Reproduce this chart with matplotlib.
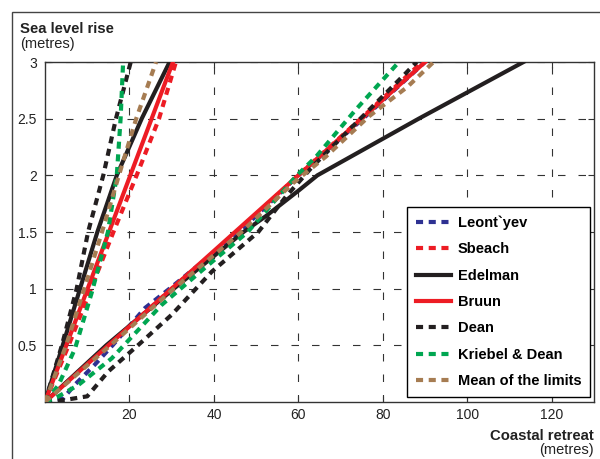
import matplotlib
matplotlib.use("Agg")
import matplotlib.pyplot as plt
from matplotlib.patches import Rectangle

plt.rcParams['font.family'] = ['Liberation Sans', 'DejaVu Sans']

# sea level rise levels (metres) used for most series
slr = [0, 0.5, 1.0, 1.5, 2.0, 2.5, 3.0]

# lower retreat limit (steep curves), coastal retreat in metres
edelman_lo = [0, 4.2, 8.3, 12.4, 17.0, 22.9, 29.5]
bruun_lo = [0, 5.05, 10.1, 15.15, 20.2, 25.25, 30.3]
sbeach_lo = [0, 5.6, 10.9, 16.2, 21.7, 27.0, 31.0]
dean_lo = [0, 4.0, 7.5, 10.2, 13.8, 16.8, 20.3]
mean_lo = [0, 5.0, 9.3, 13.5, 17.5, 21.6, 26.3]
kriebel_lo_y = [0, 0.15, 0.47, 0.97, 1.5, 2.0, 2.5, 3.0]
kriebel_lo = [0, 3.2, 7.1, 11.1, 14.9, 17.0, 17.9, 18.5]

# upper retreat limit (shallow curves)
edelman_hi_y = [0, 0.5, 1.0, 1.5, 1.64, 1.87, 2.0, 2.5, 3.0]
edelman_hi = [0, 14.5, 30.5, 47.0, 52.3, 60.2, 64.5, 88.5, 113.3]
bruun_hi = [0, 15.0, 30.0, 45.0, 60.0, 75.0, 90.0]
sbeach_hi = [0, 15.0, 30.0, 45.5, 60.0, 74.8, 89.3]
leontyev_hi_y = [0, 0.03, 0.15, 0.33, 0.5, 0.83, 1.0, 1.5, 2.0, 2.5, 3.0]
leontyev_hi = [0, 4.3, 7.0, 11.8, 16.0, 23.7, 29.5, 46.0, 60.0, 75.3, 90.0]
dean_hi_y = [0, 0.02, 0.05, 0.27, 0.5, 0.77, 1.15, 1.5, 1.81, 2.08, 2.4, 2.9, 3.0]
dean_hi = [0, 5, 10, 15, 22, 30, 39.5, 50.5, 57, 63.4, 72, 85.4, 88]
kriebel_hi_y = [0, 0.05, 0.15, 0.385, 0.856, 1.21, 1.5, 1.99, 2.165, 2.58, 3.0]
kriebel_hi = [0, 3.2, 7.9, 15.8, 27.6, 38.7, 48.0, 59.4, 64.2, 73.6, 83.8]
mean_hi_y = [0, 0.5, 1.0, 1.5, 1.93, 2.165, 2.52, 2.78, 3.0]
mean_hi = [0, 15.5, 30.5, 46.5, 58.7, 66.5, 76.7, 85.8, 92.0]

x_ticks = [20, 40, 60, 80, 100, 120]
y_ticks = [0.5, 1, 1.5, 2, 2.5, 3]

blue = '#2e3192'
red = '#ed1c24'
black = '#231f20'
green = '#00a651'
brown = '#a67c52'

lw = 3.0
dash = (0, (1.7, 1.35))

fig = plt.figure(figsize=(6, 4.59), dpi=100)
ax = fig.add_axes([0.075, 0.1242, 0.915, 0.7407])

series = [
    ("Leont`yev", blue, dash, [], [(leontyev_hi, leontyev_hi_y)]),
    ("Sbeach", red, dash, [(sbeach_lo, slr)], [(sbeach_hi, slr)]),
    ("Edelman", black, '-', [(edelman_lo, slr)], [(edelman_hi, edelman_hi_y)]),
    ("Bruun", red, '-', [(bruun_lo, slr)], [(bruun_hi, slr)]),
    ("Dean", black, dash, [(dean_lo, slr)], [(dean_hi, dean_hi_y)]),
    ("Kriebel & Dean", green, dash, [(kriebel_lo, kriebel_lo_y)], [(kriebel_hi, kriebel_hi_y)]),
    ("Mean of the limits", brown, dash, [(mean_lo, slr)], [(mean_hi, mean_hi_y)]),
]

for name, col, ls, lo, hi in series:
    first = True
    for xs, ys in lo + hi:
        ax.plot(xs, ys, color=col, linestyle=ls, linewidth=lw,
                label=name if first else None, zorder=3)
        first = False

ax.set_xlim(0, 130)
ax.set_ylim(0, 3)
ax.set_xticks(x_ticks)
ax.set_yticks(y_ticks)
ax.set_xticklabels([str(v) for v in x_ticks])
ax.set_yticklabels(['0.5', '1', '1.5', '2', '2.5', '3'])
ax.tick_params(direction='in', length=4.5, width=0.8, colors='#333333',
               labelcolor='#222222', labelsize=10, top=True, right=True)
ax.tick_params(axis='x', pad=4)
ax.tick_params(axis='y', pad=6)
ax.grid(True, color='#333333', linewidth=0.8, linestyle=(0, (6.75, 11.7)))
ax.set_axisbelow(True)
for sp in ax.spines.values():
    sp.set_color('#333333')
    sp.set_linewidth(1.0)

leg = ax.legend(loc='lower right', bbox_to_anchor=(0.9927, 0.0147),
                borderaxespad=0, prop={'weight': 'bold', 'size': 10.5},
                handlelength=2.4, handletextpad=0.45, labelspacing=0.85,
                borderpad=0.6, fancybox=False, framealpha=1, edgecolor='black')
leg.get_frame().set_linewidth(1.0)
leg.set_zorder(5)

fig.text(0.0333, 0.928, "Sea level rise", fontsize=10.7, fontweight='bold',
         va='baseline', ha='left', color='#222222')
fig.text(0.0333, 0.895, "(metres)", fontsize=10.5, va='baseline', ha='left',
         color='#222222')
fig.text(0.99, 0.0414, "Coastal retreat", fontsize=10.7, fontweight='bold',
         va='baseline', ha='right', color='#222222')
fig.text(0.99, 0.011, "(metres)", fontsize=10.5, va='baseline', ha='right',
         color='#222222')

# outer panel frame
fig.add_artist(Rectangle((11.5 / 600, -0.1), 1.2, 0.1 + 1 - 11.7 / 459,
                         transform=fig.transFigure, fill=False,
                         edgecolor='#444444', linewidth=1.0))

fig.savefig("out.png", dpi=100)
